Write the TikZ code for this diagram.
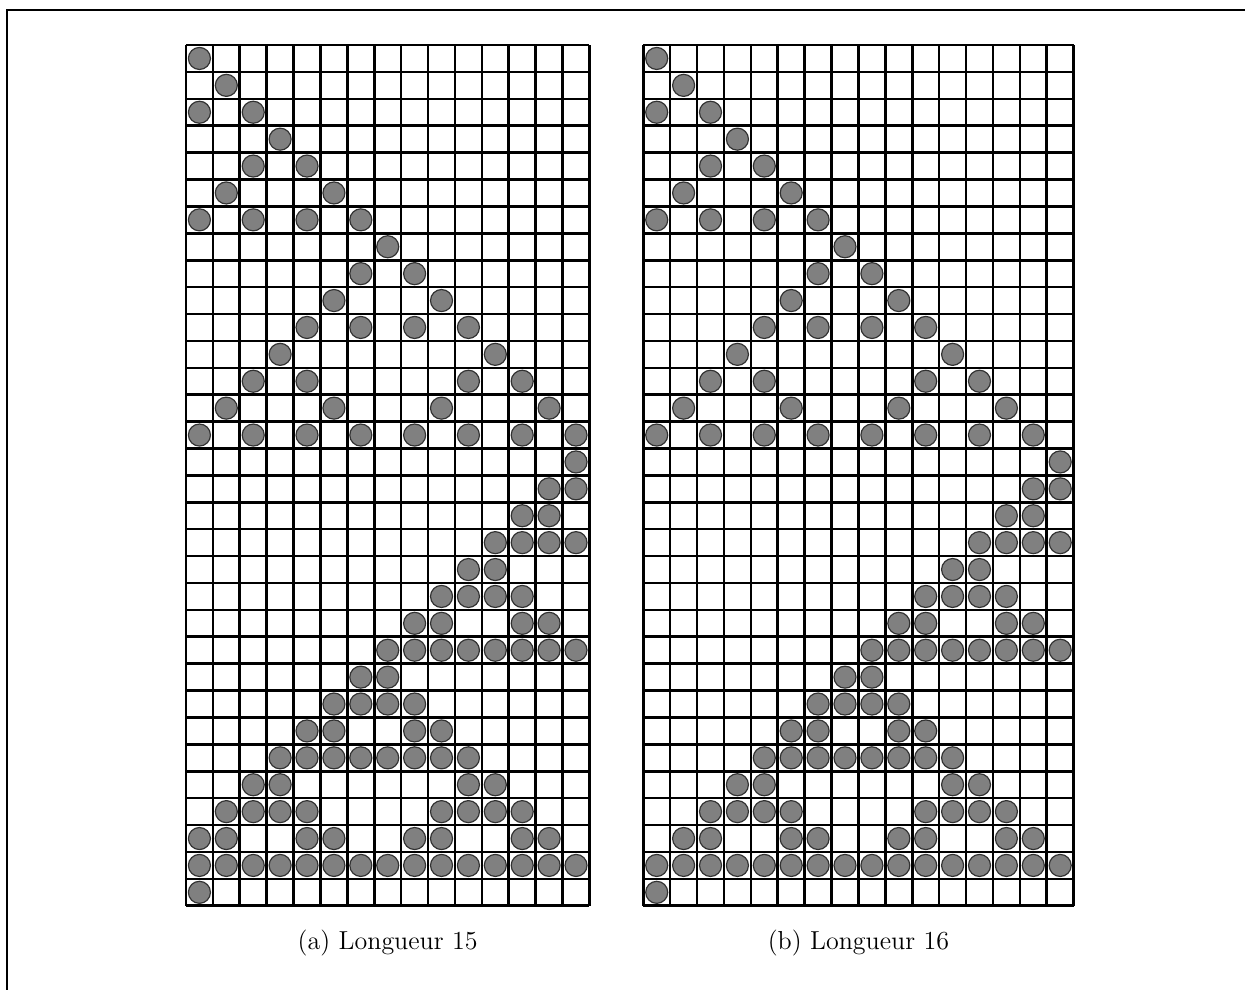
\documentclass[tikz,border=0pt]{standalone}
\usepackage{tikz}
\definecolor{dotfill}{RGB}{128,128,128}
\definecolor{dotline}{RGB}{50,50,50}

\begin{document}
\begin{tikzpicture}[scale=0.4,
  gridline/.style={line width=1.1pt, black},
  frameline/.style={line width=1pt, black},
  dot/.style={fill=dotfill, draw=dotline, line width=0.5pt},
  caption/.style={font=\fontsize{11}{13}\selectfont, anchor=center}
]
\useasboundingbox (-6.914,1.673) rectangle (39.37,-35.13);

% Frame (cut at right and bottom)
\draw[frameline] (-6.654,-35.2) -- (-6.654,1.301) -- (39.5,1.301);

% Left grid, length 15
\foreach \r/\cols in {0/{0},1/{1},2/{0,2},3/{3},4/{2,4},5/{1,5},6/{0,2,4,6},7/{7},
    8/{6,8},9/{5,9},10/{4,6,8,10},11/{3,11},12/{2,4,10,12},13/{1,5,9,13},
    14/{0,2,4,6,8,10,12,14},15/{14},16/{13,14},17/{12,13},18/{11,12,13,14},
    19/{10,11},20/{9,10,11,12},21/{8,9,12,13},22/{7,8,9,10,11,12,13,14},
    23/{6,7},24/{5,6,7,8},25/{4,5,8,9},26/{3,4,5,6,7,8,9,10},27/{2,3,10,11},
    28/{1,2,3,4,9,10,11,12},29/{0,1,4,5,8,9,12,13},
    30/{0,1,2,3,4,5,6,7,8,9,10,11,12,13,14},31/{0}}
  \foreach \c in \cols
    \draw[dot] (\c+0.5,-\r-0.5) circle[radius=0.41];
\draw[gridline] (0,0) grid (15,-32);

% Right grid, length 16
\begin{scope}[xshift=17cm]
\foreach \r/\cols in {0/{0},1/{1},2/{0,2},3/{3},4/{2,4},5/{1,5},6/{0,2,4,6},7/{7},
    8/{6,8},9/{5,9},10/{4,6,8,10},11/{3,11},12/{2,4,10,12},13/{1,5,9,13},
    14/{0,2,4,6,8,10,12,14},15/{15},16/{14,15},17/{13,14},18/{12,13,14,15},
    19/{11,12},20/{10,11,12,13},21/{9,10,13,14},22/{8,9,10,11,12,13,14,15},
    23/{7,8},24/{6,7,8,9},25/{5,6,9,10},26/{4,5,6,7,8,9,10,11},27/{3,4,11,12},
    28/{2,3,4,5,10,11,12,13},29/{1,2,5,6,9,10,13,14},
    30/{0,1,2,3,4,5,6,7,8,9,10,11,12,13,14,15},31/{0}}
  \foreach \c in \cols
    \draw[dot] (\c+0.5,-\r-0.5) circle[radius=0.41];
\draw[gridline] (0,0) grid (16,-32);
\end{scope}

% Captions
\node[caption] (capa) at (7.5,-33.39) {(a) Longueur 15};
\node[caption] (capb) at (25,-33.39) {(b) Longueur 16};
\end{tikzpicture}
\end{document}
